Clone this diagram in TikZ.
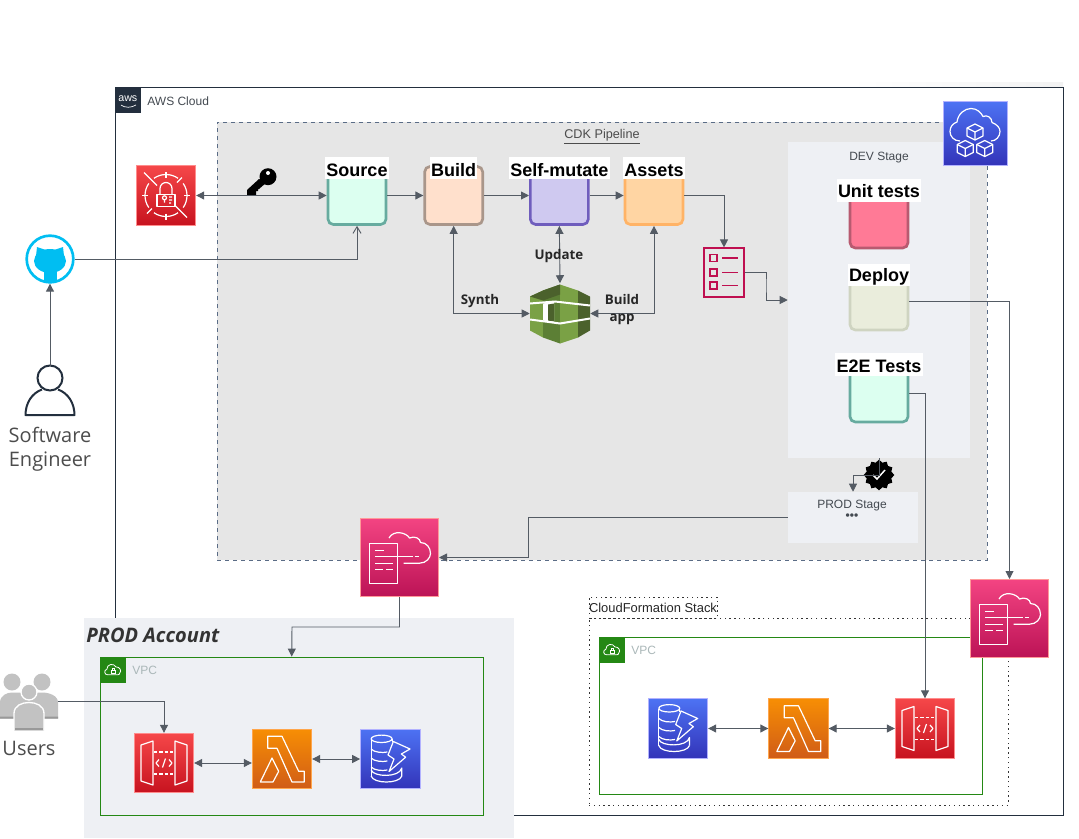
\documentclass[tikz,border=0pt]{standalone}
\usepackage{fontspec}
\setmainfont{Liberation Sans}
\newfontfamily\labelfont{Open Sans}
\usetikzlibrary{arrows.meta, positioning, shapes.geometric}
\definecolor{arrowgray}{HTML}{545B64}
\definecolor{squid}{HTML}{232F3E}
\definecolor{stagefill}{HTML}{EEF0F4}
\definecolor{pipefill}{HTML}{E6E6E6}
\definecolor{pipeline}{HTML}{5A6C86}
\definecolor{vpcgreen}{HTML}{248814}
\definecolor{vpcgray}{HTML}{AAB7B8}
\definecolor{ghblue}{HTML}{00BEF2}
\definecolor{pinkline}{HTML}{BF0F50}
\definecolor{cubelight}{HTML}{7AA145}
\definecolor{cubemid}{HTML}{5C7F35}
\definecolor{cubedark}{HTML}{4B612C}
\definecolor{usergray}{HTML}{C2C2C2}

\tikzset{
    glyph/.style={draw=white, line width=.9pt, line join=round},
    apiglyph/.pic={
        \draw[glyph] (-23,-18) -- (-11,-22) -- (-11,22) -- (-23,18) -- cycle;
        \draw[glyph] (23,-18) -- (11,-22) -- (11,22) -- (23,18) -- cycle;
        \draw[glyph, dash pattern=on 2.5pt off 1.5pt] (-10,-11) -- (10,-11) (-10,11) -- (10,11);
        \draw[glyph] (-5,-3.5) -- (-8,0) -- (-5,3.5) (5,-3.5) -- (8,0) -- (5,3.5) (-1.5,4.5) -- (1.5,-4.5);
    },
    lambdaglyph/.pic={
        \draw[glyph] (-14.3,-22.7) -- (0,-22.7) -- (16.7,12.3) -- (22.3,12.3) -- (22.3,23) -- (10,23) -- (-5,-10.7) -- (-14.3,-10.7) -- cycle;
        \draw[glyph] (-21.7,23) -- (-10,-1) -- (-3.3,12.3) -- (-9,23) -- cycle;
    },
    dynamoglyph/.pic={
        \draw[glyph] (-8.7,-20.2) ellipse [x radius=10.5, y radius=3.7];
        \draw[glyph] (-19.2,-20) -- (-19.2,17) (1.8,-20) -- (1.8,-17);
        \foreach \yy in {-10,-1,8} {
            \draw[glyph] (-19.2,\yy) .. controls (-16,\yy+3.5) and (-8,\yy+4) .. (-3,\yy+3);
        }
        \draw[glyph] (-19.2,11) .. controls (-17,18) and (9,19) .. (11.5,9) -- (11.5,17);
        \draw[glyph] (-19.2,17) .. controls (-17,25) and (9,25) .. (11.5,17);
        \draw[glyph] (3,-17.5) -- (19.7,-10) -- (11,-5) -- (15.3,-1.8) -- (-1.3,12.5) -- (3.7,0) -- (-2.3,-4) -- cycle;
    },
    kmsglyph/.pic={
        \foreach \aa in {55,145,235,325} {
            \draw[glyph] (\aa:21) arc[start angle=\aa, end angle=\aa+70, radius=21];
        }
        \foreach \aa in {0,90,180,270} {
            \draw[glyph] (\aa:18) -- (\aa:24);
        }
        \draw[glyph] (-22,-23) -- (-9,-10) (9,10) -- (21,22) (16,-18) -- (11,-13) (-14,13) -- (-19,18);
        \draw[glyph] (-9,-1) rectangle (9,11);
        \draw[glyph] (-6,-1) -- (-6,-7) arc[start angle=180, end angle=360, radius=6] -- (6,-1);
        \draw[glyph] (-1.5,2.3) circle (2) (-1.5,4.3) -- (-1.5,7) (3,1.5) -- (6,1.5) (3,4.5) -- (6,4.5) (3,7.5) -- (5,7.5);
    },
    cfglyph/.pic={
        \draw[glyph] (-30.3,-14.3) rectangle (-2,26);
        \draw[glyph] (-24.3,-6.7) -- (-15.3,-6.7) (-24.3,-.7) -- (13,-.7) (15,-.7) -- (19.7,-.7) (-24.3,5.7) -- (-7,5.7) (-24.3,12) -- (-17,12) (-13.7,12) -- (-7,12);
        \draw[glyph] (4,5.7) -- (20,5.7) .. controls (27,5.7) and (31,0) .. (31,-4) .. controls (31,-10) and (27,-15) .. (21,-15) .. controls (21,-19) and (15,-22) .. (10,-19.5) .. controls (7,-25) and (-6,-28) .. (-10.5,-19.5);
    },
    cdkglyph/.pic={
        \draw[glyph] (-15,7.5) .. controls (-21,7.5) and (-25,3) .. (-25,-2) .. controls (-25,-7) and (-22,-10) .. (-18,-11.5) .. controls (-17,-20) and (-10,-25) .. (-4,-25) .. controls (2,-25) and (6,-21) .. (8,-17) .. controls (12,-19) and (17,-16) .. (17,-11) .. controls (22,-9) and (25,-6) .. (25,-2) .. controls (25,3) and (21,7.5) .. (16,7.5);
        \foreach \cx/\cy in {0/-1.5,-9.7/15,9.7/15} {
            \begin{scope}[shift={(\cx,\cy)}]
                \draw[glyph] (0,-8) -- (8,-4) -- (8,4) -- (0,8) -- (-8,4) -- (-8,-4) -- cycle;
                \draw[glyph] (-8,-4) -- (0,0) -- (8,-4) (0,0) -- (0,8);
            \end{scope}
        }
    },
    cubeglyph/.pic={
        \fill[cubelight] (-30,-17) -- (-17,-23) -- (-17,24) -- (-30,17) -- cycle;
        \fill[cubemid] (-17,-23) -- (0,-29) -- (0,30) -- (-17,24) -- cycle;
        \fill[cubelight] (0,-29) -- (18,-23) -- (18,24) -- (0,30) -- cycle;
        \fill[cubedark] (18,-23) -- (30,-17) -- (30,17) -- (18,24) -- cycle;
        \fill[cubedark] (-17,-13) -- (0,-19) -- (0,-29) -- (-17,-23) -- cycle;
        \fill[cubedark] (-30,-17) -- (-17,-13) -- (-17,-23) -- cycle;
        \fill[white] (-17,-10) -- (-6,-12) -- (-6,9) -- (-17,7) -- cycle;
        \fill[cubedark] (-12,-9) -- (-6,-10) -- (-6,8) -- (-12,7) -- cycle;
        \draw[white, line width=1.5pt] (-30,-10) -- (-5,-12) -- (30,-8) (-30,6) -- (0,10) -- (30,5);
    },
    checkglyph/.pic={
        \foreach \yy in {-14.5,0,13} {
            \draw[pinkline, line width=.85pt] (-14,\yy-3.5) rectangle (-7,\yy+3.5);
            \draw[pinkline, line width=.85pt] (-2,\yy) -- (14,\yy);
        }
    },
    keyglyph/.pic={
        \fill[black] (7,-3.3) circle (8.5);
        \fill[black] (6,2) -- (-2,9) -- (-3,9) -- (-3,11) -- (-5,11) -- (-5,15.5) -- (-14,15.5) -- (-14,10) -- (-2,-1) -- cycle;
        \fill[white] (7,-7) circle (2);
    },
    catglyph/.pic={
        \fill[ghblue] (0,2) ellipse [x radius=16, y radius=12];
        \fill[ghblue] (-14,-3) -- (-13,-12) -- (-4,-9) -- cycle;
        \fill[ghblue] (14,-3) -- (13,-12) -- (4,-9) -- cycle;
        \fill[ghblue] (-6,10) rectangle (7,23);
    },
    engineerglyph/.pic={
        \draw[squid, line width=1.5pt] (0,-13) circle (12.5);
        \draw[squid, line width=1.5pt, line join=round] (-8,-1.5) .. controls (-18,2) and (-24.5,12) .. (-24.5,24) -- (24.5,24) .. controls (24.5,12) and (18,2) .. (8,-1.5);
    },
    usersglyph/.pic={
        \fill[usergray] (-17,-19.5) circle (8.5);
        \fill[usergray] (13,-19.5) circle (8.5);
        \fill[usergray] (-29,17) -- (-29,1) .. controls (-29,-6) and (-22,-9) .. (-17,-9) -- (13,-9) .. controls (20,-9) and (29,-6) .. (29,1) -- (29,17) -- cycle;
        \fill[gray!80] (-29,15) rectangle (-14,17) (14,15) rectangle (29,17);
        \draw[white, line width=1pt, fill=usergray] (0,-9.5) circle (8);
        \draw[white, line width=1pt, fill=usergray] (-15,29) -- (-15,12) .. controls (-15,4) and (-7,1) .. (0,1) .. controls (7,1) and (15,4) .. (15,12) -- (15,29);
        \fill[gray!80] (-14,26.5) rectangle (14,28.5);
    },
    vpcglyph/.pic={
        \draw[white, line width=.6pt] (-5,5) .. controls (-9,5) and (-9,0) .. (-6,-.5) .. controls (-6,-6) and (1,-7) .. (3,-3) .. controls (7,-3) and (9,1) .. (7,3) .. controls (7,4) and (6,5) .. (5,5) -- cycle;
        \draw[white, line width=.5pt] (-2,0) rectangle (2,3.5) (-1,0) -- (-1,-1.5) -- (1,-1.5) -- (1,0);
    },
}

\begin{document}
\begin{tikzpicture}[
    x=.75pt, y=-.75pt,
    awsbox/.style={rectangle, draw=squid, line width=.65pt},
    pipebox/.style={rectangle, draw=pipeline, fill=pipefill, dashed, line width=.6pt},
    stagebox/.style={rectangle, fill=stagefill},
    stackbox/.style={rectangle, draw=black!80, line width=.7pt, dash pattern=on 1pt off 2.6pt},
    vpcbox/.style={rectangle, draw=vpcgreen, line width=.65pt},
    vpctag/.style={rectangle, fill=vpcgreen, minimum size=19.5pt, inner sep=0pt},
    vpctext/.style={text=vpcgray, font=\fontsize{9}{11}\selectfont, inner sep=0pt, yshift=-.75pt},
    stepbox/.style={rectangle, rounded corners=4pt, line width=2pt, minimum size=43.5pt, inner sep=0pt},
    steplabel/.style={fill=white, font=\bfseries\fontsize{13.5}{15}\selectfont, text height=14.75pt, text depth=1.75pt, inner xsep=1pt, inner ysep=0pt},
    stagetext/.style={text=arrowgray!80!black, font=\fontsize{9}{9}\selectfont, inner sep=0pt, align=center},
    arrowtext/.style={font=\labelfont\bfseries\fontsize{10}{12.75}\selectfont, text=black!85, inner sep=0pt, align=center},
    peopletext/.style={font=\labelfont\fontsize{15}{18}\selectfont, text=black!70, inner sep=0pt, align=center},
    icon/.style={rectangle, line width=.75pt, minimum size=44.5pt, inner sep=0pt},
    redicon/.style={icon, draw=red!45!white, top color={rgb,255:red,245;green,71;blue,73}, bottom color={rgb,255:red,199;green,19;blue,31}},
    orangeicon/.style={icon, draw=orange!70, top color={rgb,255:red,247;green,142;blue,4}, bottom color={rgb,255:red,208;green,92;blue,23}},
    blueicon/.style={icon, draw=blue!30!white, top color={rgb,255:red,77;green,114;blue,243}, bottom color={rgb,255:red,51;green,52;blue,185}},
    pinkicon/.style={icon, minimum size=58.5pt, draw=pink!80!red, top color={rgb,255:red,243;green,68;blue,130}, bottom color={rgb,255:red,188;green,19;blue,86}},
    arr/.style={-{Triangle[length=6pt,width=6pt]}, draw=arrowgray, line width=.7pt},
    dblarr/.style={{Triangle[length=6pt,width=6pt]}-{Triangle[length=6pt,width=6pt]}, draw=arrowgray, line width=.7pt},
]
    \useasboundingbox (0,0) rectangle (1079,839);

    % AWS side
    \shade[left color=white, right color=black!5] (850,82) rectangle (1063,87);
    \node[awsbox, minimum width=711pt, minimum height=546pt] (awscloud) at (589,451) {};
    \node[rectangle, fill=squid, text=white, anchor=north west, minimum size=19.5pt, inner sep=0pt, font=\fontsize{8}{8}\selectfont] (awstag) at (awscloud.north west) {\raisebox{2pt}{aws}};
    \draw[white, line width=.5pt] (121,105) .. controls (125,108) and (131,108) .. (136,105);
    \node[stagetext, right=4.5pt of awstag, yshift=-.7pt] (awstext) {AWS Cloud};

    % CDK pipeline
    \node[pipebox, minimum width=577.5pt, minimum height=328.5pt] (pipeline) at (602,341) {};
    \node[stagetext, text=black!70, font=\fontsize{9.5}{9.5}\selectfont] (pipetext) at (602,136.5) {\underline{CDK Pipeline}};
    \node[stagebox, minimum width=136.5pt, minimum height=237pt] (devstage) at (879,300) {};
    \node[stagetext] (devtext) at (879,157.5) {DEV Stage};
    \node[stagebox, minimum width=97.5pt, minimum height=38.25pt] (prodstage) at (853,517.5) {};
    \node[stagetext] (prodtext) at (852,510) {PROD Stage\\[-1pt]\textbf{•••}};

    % Pipeline steps
    \node[stepbox, draw={rgb,255:red,103;green,171;blue,159}, fill={rgb,255:red,220;green,255;blue,240}] (source) at (357,195.5) {};
    \node[stepbox, right=27pt of source, draw={rgb,255:red,169;green,150;blue,138}, fill={rgb,255:red,255;green,224;blue,204}] (build) {};
    \node[stepbox, right=33.75pt of build, draw={rgb,255:red,111;green,93;blue,189}, fill={rgb,255:red,207;green,201;blue,240}] (selfmutate) {};
    \node[stepbox, right=25.5pt of selfmutate, draw={rgb,255:red,255;green,179;blue,102}, fill={rgb,255:red,255;green,213;blue,163}] (assets) {};
    \node[steplabel, yshift=-2.25pt] (sourcelabel) at (source.north) {Source};
    \node[steplabel, yshift=-2.25pt] (buildlabel) at (build.north) {Build};
    \node[steplabel, yshift=-2.25pt] (selfmutatelabel) at (selfmutate.north) {Self-mutate};
    \node[steplabel, yshift=-2.25pt] (assetslabel) at (assets.north) {Assets};

    % DEV stage steps
    \node[stepbox, draw={rgb,255:red,184;green,90;blue,112}, fill={rgb,255:red,255;green,122;blue,150}] (unittests) at (879,219) {};
    \node[stepbox, draw={rgb,255:red,207;green,212;blue,193}, fill={rgb,255:red,234;green,237;blue,220}] (deploy) at (879,301) {};
    \node[stepbox, draw={rgb,255:red,103;green,171;blue,159}, fill={rgb,255:red,220;green,255;blue,240}] (e2e) at (879,393) {};
    \node[steplabel, yshift=-1.3pt, text height=13.75pt, text depth=3.25pt] (unitlabel) at (unittests.north) {Unit tests};
    \node[steplabel, yshift=-3.2pt, text height=13.5pt, text depth=3.5pt] (deploylabel) at (deploy.north) {Deploy};
    \node[steplabel, yshift=-1.3pt, text height=14.5pt, text depth=2.5pt] (e2elabel) at (e2e.north) {E2E Tests};

    % Pipeline icons
    \node[redicon] (kms) at (166,195.5) {};
    \pic at (kms.center) {kmsglyph};
    \node[blueicon, minimum size=48pt] (cdk) at (975,133.5) {};
    \pic at (cdk.center) {cdkglyph};
    \node[rectangle, minimum size=45pt, inner sep=0pt] (cube) at (560,313.5) {};
    \pic at (cube.center) {cubeglyph};
    \node[rectangle, draw=pinkline, line width=1.1pt, minimum width=30pt, minimum height=36.5pt, inner sep=0pt] (checklist) at (724,272.5) {};
    \pic at (checklist.center) {checkglyph};
    \pic at (261,180) {keyglyph};
    \node[star, star points=12, star point ratio=1.2, fill=black, minimum size=23pt, inner sep=0pt] (badge) at (879,475) {};
    \draw[white, line width=1.1pt] (873,475) -- (877,479) -- (885,470);

    % Left side
    \node[circle, draw=ghblue, line width=2pt, fill=white, minimum size=35pt, inner sep=0pt] (github) at (50,259) {};
    \pic at (github.center) {catglyph};
    \node[rectangle, minimum width=37.5pt, minimum height=37.5pt, inner sep=0pt] (engineer) at (50,391) {};
    \pic at (engineer.center) {engineerglyph};
    \node[peopletext] (engineertext) at (50,449) {Software\\Engineer};

    % PROD account
    \node[stagebox, minimum width=322.5pt, minimum height=165pt] (prodaccount) at (299,728) {};
    \node[anchor=west, inner sep=0pt, text=black!80, font=\labelfont\bfseries\itshape\fontsize{15}{18}\selectfont] (prodaccounttext) at (86,635) {PROD Account};
    \node[vpcbox, minimum width=287.6pt, minimum height=118.5pt] (vpcprod) at (291.75,736) {};
    \node[vpctag, anchor=north west] (vpcprodtag) at (vpcprod.north west) {};
    \pic at (vpcprodtag.center) {vpcglyph};
    \node[vpctext, right=4.5pt of vpcprodtag] (vpcprodtext) {VPC};
    \node[redicon] (apiprod) at (164,763) {};
    \pic at (apiprod.center) {apiglyph};
    \node[orangeicon] (lambdaprod) at (282,759) {};
    \pic at (lambdaprod.center) {lambdaglyph};
    \node[blueicon, right=36pt of lambdaprod] (dynamoprod) {};
    \pic at (dynamoprod.center) {dynamoglyph};
    \node[pinkicon] (cfprod) at (399.5,557.5) {};
    \pic at (cfprod.center) {cfglyph};

    \node[rectangle, minimum width=43.5pt, minimum height=42.75pt, inner sep=0pt] (users) at (29,701.5) {};
    \pic at (users.center) {usersglyph};
    \node[peopletext] (userstext) at (29,748) {Users};

    % CloudFormation stack
    \node[stackbox, minimum width=314.25pt, minimum height=140.25pt] (stack) at (798.5,711.5) {};
    \node[stackbox, minimum width=96pt, minimum height=15.75pt, inner sep=0pt, font=\fontsize{9.7}{11}\selectfont, text=black!85] (stacktitle) at (653,607.5) {CloudFormation Stack};
    \node[vpcbox, minimum width=287.25pt, minimum height=117.75pt] (vpcdev) at (790.5,715.5) {};
    \node[vpctag, anchor=north west] (vpcdevtag) at (vpcdev.north west) {};
    \pic at (vpcdevtag.center) {vpcglyph};
    \node[vpctext, right=4.5pt of vpcdevtag] (vpcdevtext) {VPC};
    \node[blueicon] (dynamodev) at (678,728.5) {};
    \pic at (dynamodev.center) {dynamoglyph};
    \node[orangeicon] (lambdadev) at (798.5,728.5) {};
    \pic at (lambdadev.center) {lambdaglyph};
    \node[redicon] (apidev) at (925,728.5) {};
    \pic at (apidev.center) {apiglyph};
    \node[pinkicon] (cfdev) at (1009.5,618.5) {};
    \pic at (cfdev.center) {cfglyph};

    % Turning points
    \coordinate (devturn) at (766,285);
    \coordinate (prodturn) at (528,557.5);
    \coordinate (vpcturn) at (292,627);

    % Connectors
    \draw[dblarr] (kms.east) -- (source.west);
    \draw[arr] (source.east) -- (build.west);
    \draw[arr] (build.east) -- (selfmutate.west);
    \draw[arr] (selfmutate.east) -- (assets.west);
    \draw[arr] (assets.east) -| (checklist.north);
    \draw[arr] (checklist.east) -| (devturn) |- (devstage.west);
    \draw[dblarr] (build.south) |- (cube.west);
    \draw[dblarr] (selfmutate.south) -- (cube.north);
    \draw[dblarr] (assets.south) |- (cube.east);
    \draw[arr] (engineer.north) -- (github.south);
    \draw[-{Straight Barb[length=5pt,width=6pt]}, draw=arrowgray, line width=.7pt] (github.east) -| (source.south);
    \draw[arr] (devstage.south) -- (badge.center) -| (prodstage.north);
    \draw[arr] (deploy.east) -| (cfdev.north);
    \draw[arr] (e2e.east) -| (apidev.north);
    \draw[arr] (prodstage.west) -| (prodturn) -- (cfprod.east);
    \draw[arr] (cfprod.south) |- (vpcturn) -- (vpcprod.north);
    \draw[arr] (users.east) -| (apiprod.north);
    \draw[dblarr] (apiprod.east) -- (lambdaprod.west |- apiprod.east);
    \draw[dblarr] (lambdaprod.east) -- (dynamoprod.west);
    \draw[dblarr] (dynamodev.east) -- (lambdadev.west);
    \draw[dblarr] (lambdadev.east) -- (apidev.west);

    % Arrow labels
    \node[arrowtext] (synthtext) at (480,301) {Synth};
    \node[arrowtext] (updatetext) at (559,256) {Update};
    \node[arrowtext] (buildapptext) at (622,309.5) {Build\\app};
\end{tikzpicture}
\end{document}
